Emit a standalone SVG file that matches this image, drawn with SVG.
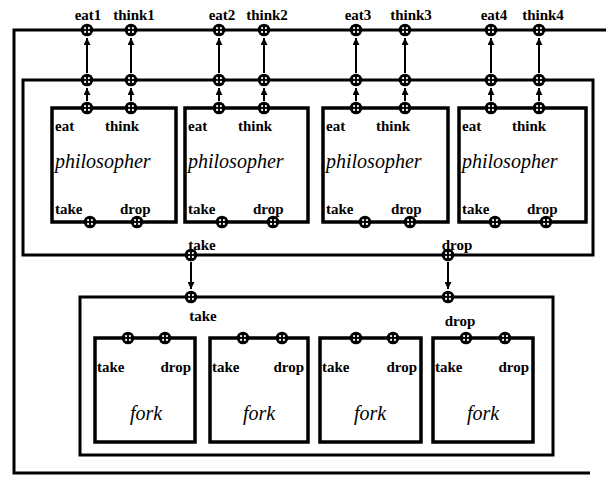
<svg xmlns="http://www.w3.org/2000/svg" width="606" height="477" viewBox="0 0 606 477">
<style>
.frame{fill:none;stroke:#000;stroke-width:3}
.box{fill:#fff;stroke:#000;stroke-width:3.5}
.wire{stroke:#000;stroke-width:2;fill:none}
.lbl{font-family:'Liberation Serif','DejaVu Serif',serif;font-weight:bold;font-size:15px;fill:#000}
.name{font-family:'Liberation Serif','DejaVu Serif',serif;font-style:italic;font-size:20px;fill:#000}
</style>
<defs>
<g id="port"><circle r="6.3" fill="#000"/><circle cx="-1.9" cy="-1.9" r="1.1" fill="#fff"/><circle cx="1.9" cy="-1.9" r="1.1" fill="#fff"/><circle cx="-1.9" cy="1.9" r="1.1" fill="#fff"/><circle cx="1.9" cy="1.9" r="1.1" fill="#fff"/></g>
<marker id="ah" viewBox="0 0 10 10" refX="10" refY="5" markerWidth="8" markerHeight="7" markerUnits="userSpaceOnUse" orient="auto"><path d="M0,0 L10,5 L0,10 z" fill="#000"/></marker>
</defs>
<rect width="606" height="477" fill="#fff"/>
<g id="outer">
<path class="frame" d="M606,30 H14 V473 H590"/>
<text class="lbl" x="88" y="20" text-anchor="middle">eat1</text>
<text class="lbl" x="134" y="20" text-anchor="middle">think1</text>
<text class="lbl" x="222" y="20" text-anchor="middle">eat2</text>
<text class="lbl" x="267" y="20" text-anchor="middle">think2</text>
<text class="lbl" x="358" y="20" text-anchor="middle">eat3</text>
<text class="lbl" x="411" y="20" text-anchor="middle">think3</text>
<text class="lbl" x="494" y="20" text-anchor="middle">eat4</text>
<text class="lbl" x="543" y="20" text-anchor="middle">think4</text>
</g>
<g id="philosophers-container">
<rect class="frame" x="23" y="80" width="570" height="175"/>
<text class="lbl" x="202" y="250" text-anchor="middle">take</text>
<text class="lbl" x="457" y="250" text-anchor="middle">drop</text>
</g>
<g id="fork-container">
<rect class="frame" x="80" y="297" width="473" height="158"/>
<text class="lbl" x="203" y="321" text-anchor="middle">take</text>
<text class="lbl" x="460" y="326" text-anchor="middle">drop</text>
</g>
<g id="philosopher1">
<rect class="box" x="52" y="108" width="124" height="114"/>
<text class="lbl" x="55" y="131">eat</text><text class="lbl" x="105" y="131">think</text>
<text class="name" x="55" y="168">philosopher</text>
<text class="lbl" x="55" y="214">take</text><text class="lbl" x="120" y="214">drop</text>
</g>
<g id="philosopher2">
<rect class="box" x="185" y="108" width="123" height="114"/>
<text class="lbl" x="188" y="131">eat</text><text class="lbl" x="238" y="131">think</text>
<text class="name" x="188" y="168">philosopher</text>
<text class="lbl" x="188" y="214">take</text><text class="lbl" x="253" y="214">drop</text>
</g>
<g id="philosopher3">
<rect class="box" x="323" y="108" width="125" height="114"/>
<text class="lbl" x="326" y="131">eat</text><text class="lbl" x="376" y="131">think</text>
<text class="name" x="326" y="168">philosopher</text>
<text class="lbl" x="326" y="214">take</text><text class="lbl" x="391" y="214">drop</text>
</g>
<g id="philosopher4">
<rect class="box" x="459" y="108" width="127" height="114"/>
<text class="lbl" x="462" y="131">eat</text><text class="lbl" x="512" y="131">think</text>
<text class="name" x="462" y="168">philosopher</text>
<text class="lbl" x="462" y="214">take</text><text class="lbl" x="527" y="214">drop</text>
</g>
<g id="fork1">
<rect class="box" x="95" y="338" width="100" height="104"/>
<text class="lbl" x="97" y="372">take</text><text class="lbl" x="191" y="372" text-anchor="end">drop</text>
<text class="name" x="146" y="420" text-anchor="middle">fork</text>
</g>
<g id="fork2">
<rect class="box" x="210" y="338" width="98" height="104"/>
<text class="lbl" x="212" y="372">take</text><text class="lbl" x="304" y="372" text-anchor="end">drop</text>
<text class="name" x="259" y="420" text-anchor="middle">fork</text>
</g>
<g id="fork3">
<rect class="box" x="320" y="338" width="101" height="104"/>
<text class="lbl" x="322" y="372">take</text><text class="lbl" x="417" y="372" text-anchor="end">drop</text>
<text class="name" x="370" y="420" text-anchor="middle">fork</text>
</g>
<g id="fork4">
<rect class="box" x="433" y="338" width="100" height="104"/>
<text class="lbl" x="435" y="372">take</text><text class="lbl" x="529" y="372" text-anchor="end">drop</text>
<text class="name" x="483" y="420" text-anchor="middle">fork</text>
</g>
<g id="connectors">
<g class="wire" marker-end="url(#ah)">
<line x1="87" y1="101" x2="87" y2="88"/><line x1="87" y1="73" x2="87" y2="38"/>
<line x1="131" y1="101" x2="131" y2="88"/><line x1="131" y1="73" x2="131" y2="38"/>
<line x1="219" y1="101" x2="219" y2="88"/><line x1="219" y1="73" x2="219" y2="38"/>
<line x1="264" y1="101" x2="264" y2="88"/><line x1="264" y1="73" x2="264" y2="38"/>
<line x1="356" y1="101" x2="356" y2="88"/><line x1="356" y1="73" x2="356" y2="38"/>
<line x1="405" y1="101" x2="405" y2="88"/><line x1="405" y1="73" x2="405" y2="38"/>
<line x1="491" y1="101" x2="491" y2="88"/><line x1="491" y1="73" x2="491" y2="38"/>
<line x1="539" y1="101" x2="539" y2="88"/><line x1="539" y1="73" x2="539" y2="38"/>
<line x1="191" y1="262" x2="191" y2="289"/>
<line x1="448" y1="262" x2="448" y2="289"/>
</g>
</g>
<g id="ports">
<use href="#port" x="87" y="30"/><use href="#port" x="131" y="30"/><use href="#port" x="219" y="30"/><use href="#port" x="264" y="30"/>
<use href="#port" x="356" y="30"/><use href="#port" x="405" y="30"/><use href="#port" x="491" y="30"/><use href="#port" x="539" y="30"/>
<use href="#port" x="87" y="80"/><use href="#port" x="131" y="80"/><use href="#port" x="219" y="80"/><use href="#port" x="264" y="80"/>
<use href="#port" x="356" y="80"/><use href="#port" x="405" y="80"/><use href="#port" x="491" y="80"/><use href="#port" x="539" y="80"/>
<use href="#port" x="87" y="108"/><use href="#port" x="131" y="108"/><use href="#port" x="219" y="108"/><use href="#port" x="264" y="108"/>
<use href="#port" x="356" y="108"/><use href="#port" x="405" y="108"/><use href="#port" x="491" y="108"/><use href="#port" x="539" y="108"/>
<use href="#port" x="90" y="222"/><use href="#port" x="137" y="222"/><use href="#port" x="222" y="222"/><use href="#port" x="273" y="222"/>
<use href="#port" x="365" y="222"/><use href="#port" x="410" y="222"/><use href="#port" x="495" y="222"/><use href="#port" x="546" y="222"/>
<use href="#port" x="191" y="255"/><use href="#port" x="448" y="255"/>
<use href="#port" x="191" y="297"/><use href="#port" x="448" y="297"/>
<use href="#port" x="128" y="338"/><use href="#port" x="165" y="338"/><use href="#port" x="243" y="338"/><use href="#port" x="282" y="338"/>
<use href="#port" x="356" y="338"/><use href="#port" x="393" y="338"/><use href="#port" x="466" y="338"/><use href="#port" x="505" y="338"/>
</g>
</svg>
